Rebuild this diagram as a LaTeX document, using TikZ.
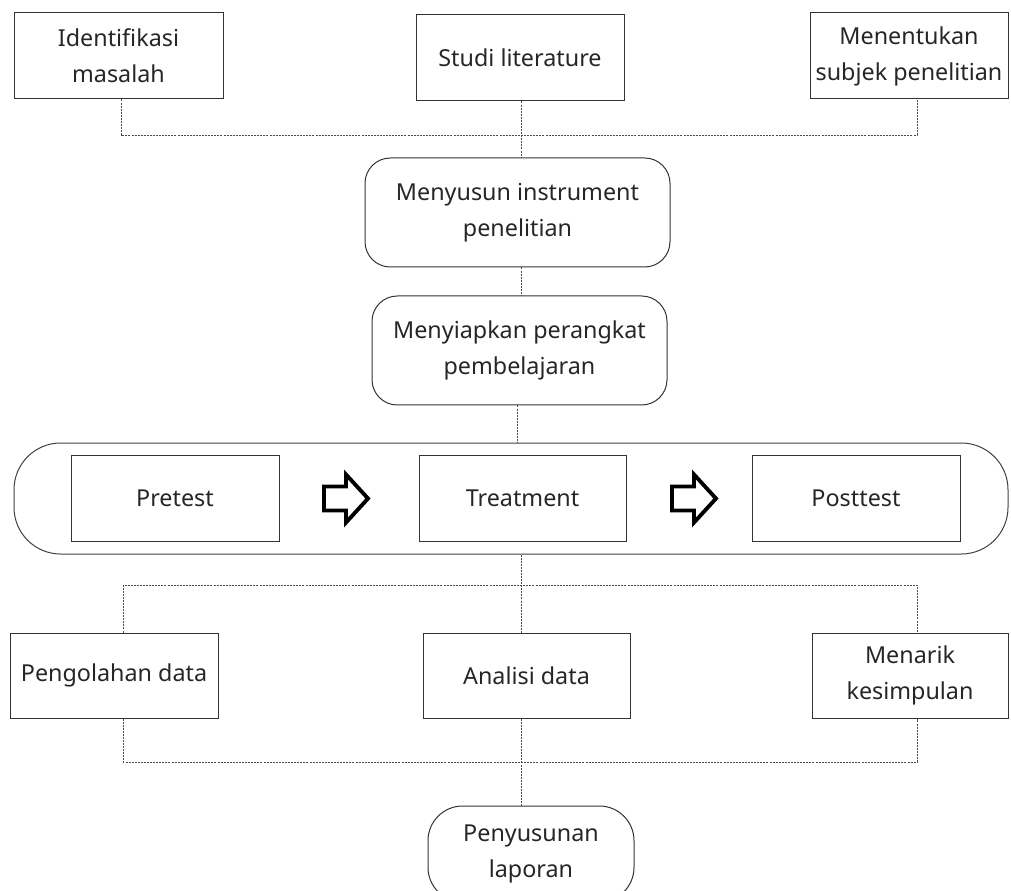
\documentclass[tikz,border=0pt]{standalone}
\usepackage{fontspec}
\setmainfont{Noto Sans}
\begin{document}
\begin{tikzpicture}[x=0.75pt,y=-0.75pt,
  txt/.style={font=\fontsize{17.5}{27}\selectfont, text=black!85, align=center, inner sep=0pt},
  box/.style={txt, draw=black!80, line width=0.75pt, rectangle},
  rbox/.style={box, rounded corners=#1},
  link/.style={draw=black!70, line width=0.7pt, dash pattern=on 1.5pt off 0.8pt},
  fatarrow/.style={draw=black, line width=2.9pt, fill=white, line join=miter}
]
\useasboundingbox (0,0) rectangle (1011,891);
% top row
\node[box, minimum width=0.75*209pt, minimum height=0.75*86pt] (idm) at (118.5,56) {Identifikasi\\masalah};
\node[box, minimum width=0.75*208pt, minimum height=0.75*86pt] (studi) at (520,58) {Studi literature};
\node[box, minimum width=0.75*198pt, minimum height=0.75*86pt] (subj) at (909,56) {Menentukan\\subjek penelitian};
% middle
\node[rbox=19pt, minimum width=0.75*305pt, minimum height=0.75*109pt] (instr) at (517.5,212.5) {Menyusun instrument\\penelitian};
\node[rbox=19pt, minimum width=0.75*295pt, minimum height=0.75*109pt] (perang) at (519.5,350.5) {Menyiapkan perangkat\\pembelajaran};
% big band
\node[rbox=35pt, draw=black!75, minimum width=0.75*994pt, minimum height=0.75*111pt] (band) at (511,498.5) {};
\node[box, minimum width=0.75*208pt, minimum height=0.75*86pt] (pre) at (175,498) {Pretest};
\node[box, minimum width=0.75*207pt, minimum height=0.75*86pt] (treat) at (522.5,498) {Treatment};
\node[box, minimum width=0.75*208pt, minimum height=0.75*86pt] (post) at (856,498) {Posttest};
% fat arrows
\coordinate (a1) at (346,498.5);
\coordinate (a2) at (694,498.5);
\foreach \a in {a1,a2}{
  \draw[fatarrow] ([shift={(-22,-12)}]\a) -- ([shift={(0,-12)}]\a) -- ([shift={(0,-24)}]\a)
    -- ([shift={(22,0)}]\a) -- ([shift={(0,24)}]\a) -- ([shift={(0,12)}]\a)
    -- ([shift={(-22,12)}]\a) -- cycle;
}
% bottom row
\node[box, minimum width=0.75*208pt, minimum height=0.75*85pt] (olah) at (114,675.5) {Pengolahan data};
\node[box, minimum width=0.75*207pt, minimum height=0.75*85pt] (anal) at (526.5,675.5) {Analisi data};
\node[box, minimum width=0.75*196pt, minimum height=0.75*85pt] (tarik) at (910,675.5) {Menarik\\kesimpulan};
\node[rbox=26pt, minimum width=0.75*206pt, minimum height=0.75*96pt] (lapor) at (531,854) {Penyusunan\\laporan};
% connectors
\coordinate (t1) at (121,135);
\coordinate (t3) at (917,135);
\coordinate (m1) at (123,585);
\coordinate (m3) at (917,585);
\coordinate (b1) at (123,762);
\coordinate (b3) at (917,762);
\coordinate (cx) at (521,0);
\draw[link] (idm.south -| t1) -- (t1) -- (t3) -- (subj.south -| t3);
\draw[link] (studi.south -| cx) -- (instr.north -| cx);
\draw[link] (instr.south -| cx) -- (perang.north -| cx);
\draw[link] (perang.south -| 517,0) -- (band.north -| 517,0);
\draw[link] (band.south -| cx) -- (anal.north -| cx);
\draw[link] (olah.north -| m1) -- (m1) -- (m3) -- (tarik.north -| m3);
\draw[link] (olah.south -| b1) -- (b1) -- (b3) -- (tarik.south -| b3);
\draw[link] (anal.south -| cx) -- (lapor.north -| cx);
\end{tikzpicture}
\end{document}
